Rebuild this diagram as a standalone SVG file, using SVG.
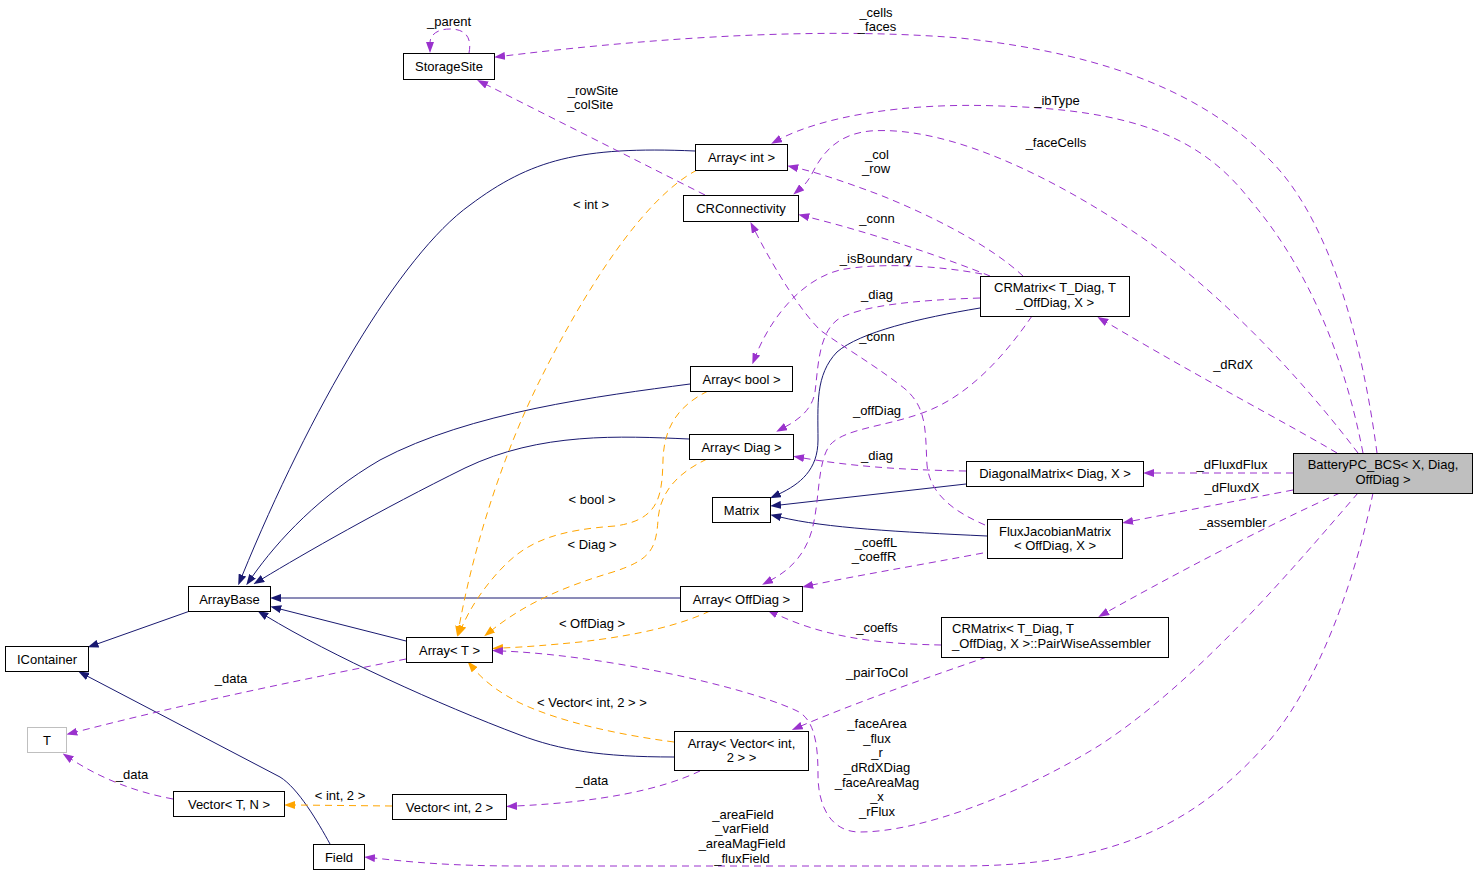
<svg xmlns="http://www.w3.org/2000/svg" width="1477" height="876" viewBox="0 0 1477 876">
<style>
.node rect{fill:#fff;stroke:#000;stroke-width:1}
text{font-family:"Liberation Sans",Arial,Helvetica,sans-serif;font-size:13px;fill:#000;text-anchor:middle}
.inh{fill:none;stroke:#191970;stroke-width:1;marker-end:url(#an)}
.tpl{fill:none;stroke:#ffa500;stroke-width:1;stroke-dasharray:7,5;marker-end:url(#ao)}
.use{fill:none;stroke:#9a32cd;stroke-width:1;stroke-dasharray:7,5;marker-end:url(#ap)}
</style>
<defs>
<marker id="an" viewBox="0 0 11 8" markerWidth="11" markerHeight="8" refX="1" refY="4" orient="auto" markerUnits="userSpaceOnUse"><path d="M0,0 L11,4 L0,8 z" fill="#191970"/></marker>
<marker id="ao" viewBox="0 0 11 8" markerWidth="11" markerHeight="8" refX="1" refY="4" orient="auto" markerUnits="userSpaceOnUse"><path d="M0,0 L11,4 L0,8 z" fill="#ffa500"/></marker>
<marker id="ap" viewBox="0 0 11 8" markerWidth="11" markerHeight="8" refX="1" refY="4" orient="auto" markerUnits="userSpaceOnUse"><path d="M0,0 L11,4 L0,8 z" fill="#9a32cd"/></marker>
</defs>
<rect width="1477" height="876" fill="#fff"/>
<g id="edges">
<path class="inh" d="M695,151 C580,146 530,160 470,205 C400,255 310,410 242,576"/>
<path class="inh" d="M690,384 C600,396 470,412 380,460 C320,495 278,540 252,577"/>
<path class="inh" d="M689,439 C620,436 540,432 465,468 C380,510 305,553 262,579"/>
<path class="inh" d="M680,598 L280,598"/>
<path class="inh" d="M406,641 L280,609"/>
<path class="inh" d="M674,757 C600,757 560,750 520,735 C440,705 330,655 266,616"/>
<path class="inh" d="M190,611 L97,644"/>
<path class="inh" d="M330,844 C318,822 298,788 280,777 L87,676"/>
<path class="inh" d="M980,308 C920,318 860,332 837,352 C815,375 818,405 818,440 C818,470 800,484 779,494"/>
<path class="inh" d="M966,484 L780,505"/>
<path class="inh" d="M987,536 C900,532 825,528 780,517"/>
<path class="tpl" d="M697,170 C640,200 580,300 540,380 C505,450 475,540 459,627"/>
<path class="tpl" d="M708,391 C680,405 664,425 663,460 C662,495 660,520 615,526 C560,530 530,540 505,565 C485,585 470,608 462,627"/>
<path class="tpl" d="M707,459 C680,472 660,490 658,520 C656,550 650,560 613,572 C570,585 530,600 492,630"/>
<path class="tpl" d="M710,611 C680,625 640,635 580,642 C550,645 525,647 502,648"/>
<path class="tpl" d="M674,742 C620,735 560,722 520,703 C500,693 485,682 474,669"/>
<path class="tpl" d="M392,806 L294,805"/>
<path class="use" d="M469,53 C472,38 466,29 450,29 C437,29 430,35 430,43"/>
<path class="use" d="M1377,453 C1362,340 1330,220 1270,160 C1210,100 1120,55 960,38 C800,25 620,42 504,56"/>
<path class="use" d="M1363,453 C1345,360 1310,270 1250,200 C1200,135 1130,110 1000,106 C900,102 820,118 780,139"/>
<path class="use" d="M1358,453 C1310,390 1240,310 1150,243 C1060,180 950,125 870,131 C840,134 825,150 815,168 C811,176 807,183 801,188"/>
<path class="use" d="M1337,453 C1290,425 1200,378 1106,322"/>
<path class="use" d="M1293,473 L1153,473"/>
<path class="use" d="M1293,490 L1132,521"/>
<path class="use" d="M1340,493 C1290,515 1200,560 1107,612"/>
<path class="use" d="M1358,493 C1300,560 1200,680 1100,745 C1020,795 920,832 860,832 C830,832 818,805 818,775 C818,745 815,718 795,710 C740,685 600,655 502,651"/>
<path class="use" d="M1373,493 C1355,580 1320,680 1270,740 C1200,820 1120,866 960,866 L520,866 C450,866 410,862 374,858"/>
<path class="use" d="M406,659 C320,676 200,700 76,732"/>
<path class="use" d="M173,799 C135,792 100,778 71,759"/>
<path class="use" d="M700,771 C660,790 600,802 516,806"/>
<path class="use" d="M941,645 C890,644 830,640 776,614"/>
<path class="use" d="M987,657 C920,680 850,705 801,726"/>
<path class="use" d="M983,553 C920,565 860,575 812,585"/>
<path class="use" d="M985,525 C955,512 930,495 927,465 C925,430 928,405 900,385 C870,362 840,345 820,330 C800,310 775,270 755,231"/>
<path class="use" d="M1023,276 C990,245 930,215 880,195 C840,180 815,172 797,168"/>
<path class="use" d="M990,276 C950,260 880,235 808,217"/>
<path class="use" d="M982,274 C940,266 880,262 840,270 C800,280 770,320 756,355"/>
<path class="use" d="M980,298 C920,300 860,305 837,320 C818,335 818,370 815,392 C812,410 798,420 785,427"/>
<path class="use" d="M1032,316 C1005,355 970,395 925,412 C885,427 845,428 830,445 C817,462 820,500 812,530 C805,555 790,570 771,580"/>
<path class="use" d="M966,471 C900,470 850,466 803,458"/>
<path class="use" d="M705,195 L486,84.5"/>
<text x="449" y="25.5">_parent</text>
<text x="876" y="16.5">_cells</text>
<text x="877" y="30.5">_faces</text>
<text x="593" y="94.5">_rowSite</text>
<text x="590" y="108.5">_colSite</text>
<text x="1057" y="104.5">_ibType</text>
<text x="1056" y="146.5">_faceCells</text>
<text x="877" y="159">_col</text>
<text x="876" y="173">_row</text>
<text x="591" y="208.5">&lt; int &gt;</text>
<text x="877" y="223">_conn</text>
<text x="876" y="262.5">_isBoundary</text>
<text x="877" y="299">_diag</text>
<text x="877" y="341">_conn</text>
<text x="1233" y="368.5">_dRdX</text>
<text x="877" y="415">_offDiag</text>
<text x="877" y="460">_diag</text>
<text x="1232" y="469">_dFluxdFlux</text>
<text x="1232" y="491.5">_dFluxdX</text>
<text x="592" y="504">&lt; bool &gt;</text>
<text x="1233" y="527">_assembler</text>
<text x="592" y="548.5">&lt; Diag &gt;</text>
<text x="876" y="547">_coeffL</text>
<text x="874" y="561">_coeffR</text>
<text x="592" y="628">&lt; OffDiag &gt;</text>
<text x="877" y="632">_coeffs</text>
<text x="877" y="676.5">_pairToCol</text>
<text x="231" y="683">_data</text>
<text x="592" y="707">&lt; Vector&lt; int, 2 &gt; &gt;</text>
<text x="877" y="727.5">_faceArea</text>
<text x="877" y="742.5">_flux</text>
<text x="877" y="757">_r</text>
<text x="877" y="772">_dRdXDiag</text>
<text x="877" y="787">_faceAreaMag</text>
<text x="877" y="801">_x</text>
<text x="877" y="815.5">_rFlux</text>
<text x="132" y="779">_data</text>
<text x="592" y="785">_data</text>
<text x="340" y="800">&lt; int, 2 &gt;</text>
<text x="743" y="818.5">_areaField</text>
<text x="742" y="832.5">_varField</text>
<text x="742" y="847.5">_areaMagField</text>
<text x="742" y="862.5">_fluxField</text>
</g>
<g id="StorageSite" class="node"><rect x="403.5" y="53.5" width="91" height="26"/><text x="449" y="70.5">StorageSite</text></g>
<g id="ArrayInt" class="node"><rect x="695.5" y="144.5" width="92" height="26"/><text x="741.5" y="161.5">Array&lt; int &gt;</text></g>
<g id="CRConnectivity" class="node"><rect x="683.5" y="195.5" width="115" height="26"/><text x="741" y="212.5">CRConnectivity</text></g>
<g id="CRMatrix" class="node"><rect x="980.5" y="276.5" width="149" height="40"/><text x="1055" y="292">CRMatrix&lt; T_Diag, T</text><text x="1055" y="306.5">_OffDiag, X &gt;</text></g>
<g id="ArrayBool" class="node"><rect x="690.5" y="366.5" width="102" height="25"/><text x="741.5" y="383.5">Array&lt; bool &gt;</text></g>
<g id="ArrayDiag" class="node"><rect x="689.5" y="434.5" width="104" height="25"/><text x="741.5" y="451.5">Array&lt; Diag &gt;</text></g>
<g id="Matrix" class="node"><rect x="712.5" y="497.5" width="58" height="25"/><text x="741.5" y="514.5">Matrix</text></g>
<g id="DiagonalMatrix" class="node"><rect x="966.5" y="461.5" width="177" height="25"/><text x="1055" y="478">DiagonalMatrix&lt; Diag, X &gt;</text></g>
<g id="FluxJacobianMatrix" class="node"><rect x="987.5" y="519.5" width="135" height="39"/><text x="1055" y="535.5">FluxJacobianMatrix</text><text x="1055" y="550">&lt; OffDiag, X &gt;</text></g>
<g id="ArrayOffDiag" class="node"><rect x="680.5" y="586.5" width="122" height="25"/><text x="741.5" y="603.5">Array&lt; OffDiag &gt;</text></g>
<g id="PairWiseAssembler" class="node"><rect x="941.5" y="617.5" width="227" height="40"/><text x="952" y="632.5" style="text-anchor:start">CRMatrix&lt; T_Diag, T</text><text x="952" y="647.5" style="text-anchor:start">_OffDiag, X &gt;::PairWiseAssembler</text></g>
<g id="ArrayBase" class="node"><rect x="188.5" y="586.5" width="82" height="25"/><text x="229.5" y="603.5">ArrayBase</text></g>
<g id="IContainer" class="node"><rect x="5.5" y="646.5" width="83" height="25"/><text x="47" y="663.5">IContainer</text></g>
<g id="ArrayT" class="node"><rect x="406.5" y="637.5" width="86" height="25"/><text x="449.5" y="654.5">Array&lt; T &gt;</text></g>
<g id="T" class="node"><rect x="27.5" y="727.5" width="39" height="25" style="stroke:#bfbfbf"/><text x="47" y="744.5">T</text></g>
<g id="VectorTN" class="node"><rect x="173.5" y="791.5" width="111" height="25"/><text x="229" y="808.5">Vector&lt; T, N &gt;</text></g>
<g id="VectorInt2" class="node"><rect x="392.5" y="794.5" width="114" height="25"/><text x="449.5" y="811.5">Vector&lt; int, 2 &gt;</text></g>
<g id="Field" class="node"><rect x="313.5" y="844.5" width="51" height="25"/><text x="339" y="861.5">Field</text></g>
<g id="ArrayVectorInt2" class="node"><rect x="674.5" y="731.5" width="134" height="39"/><text x="741.5" y="747.5">Array&lt; Vector&lt; int,</text><text x="741.5" y="762">2 &gt; &gt;</text></g>
<g id="BatteryPC_BCS" class="node"><rect x="1293.5" y="453.5" width="179" height="40" style="fill:#bfbfbf"/><text x="1383" y="469">BatteryPC_BCS&lt; X, Diag,</text><text x="1383" y="483.5">OffDiag &gt;</text></g>
</svg>
